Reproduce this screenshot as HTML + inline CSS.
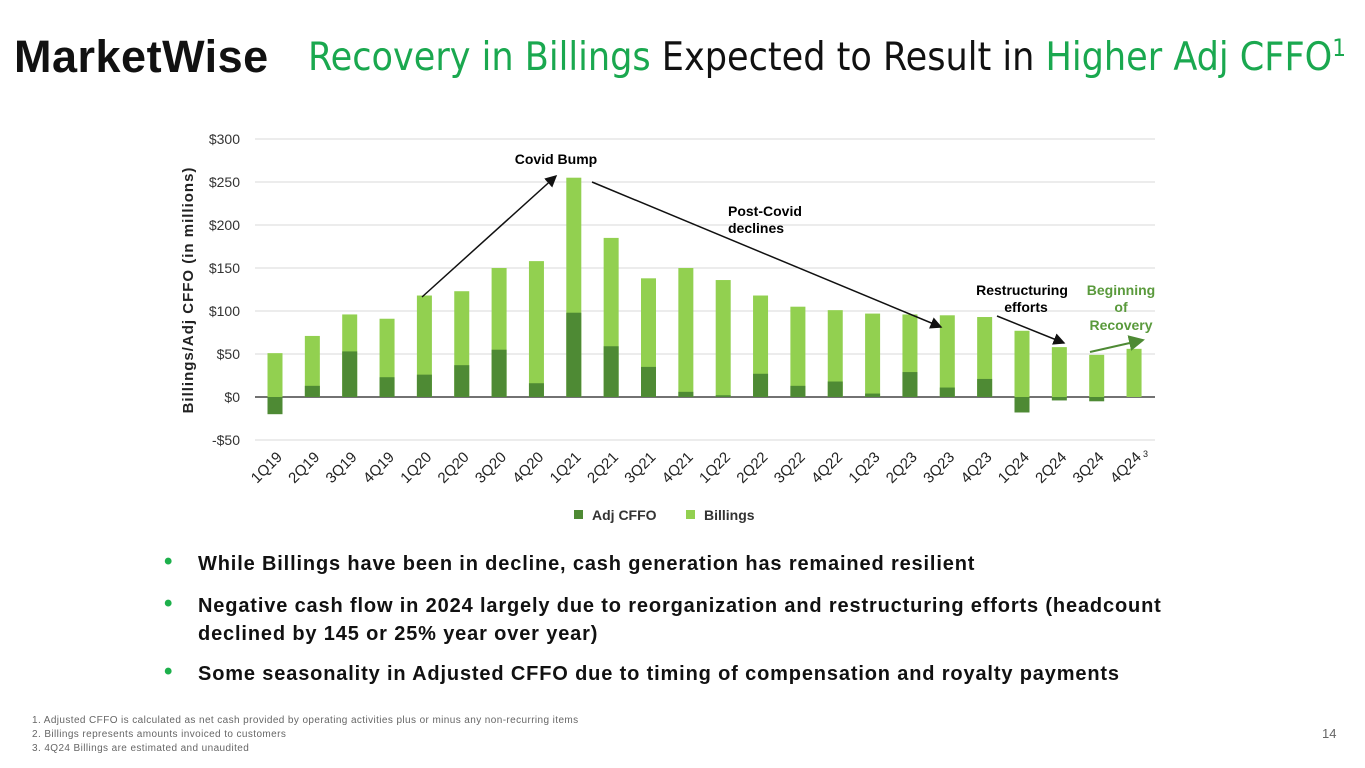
<!DOCTYPE html>
<html><head><meta charset="utf-8">
<style>
body{margin:0;width:1365px;height:768px;background:#fff;font-family:"Liberation Sans","DejaVu Sans",sans-serif;position:relative;overflow:hidden}
.abs{position:absolute}
.bul{position:absolute;left:170px;font-size:20px;font-weight:bold;color:#111;line-height:28px;letter-spacing:0.85px;white-space:nowrap}
.bul .dot{position:absolute;left:-6px;top:-2px;color:#1db04b;font-size:24px}
.bul span.t{margin-left:28px;display:block}
</style></head><body>
<div class="abs" style="left:14px;top:31px;font-size:45px;font-weight:bold;color:#111;letter-spacing:0.5px">MarketWise</div>
<div class="abs" style="left:308px;top:34px;font-size:39px;color:#111;white-space:nowrap;font-family:'DejaVu Sans Condensed','DejaVu Sans',sans-serif"><span style="color:#1aa84f">Recovery in Billings</span> Expected to Result in <span style="color:#1aa84f">Higher Adj CFFO<sup style="font-size:24px">1</sup></span></div>
<svg class="abs" style="left:0;top:0" width="1365" height="540">
<defs><marker id="ah" markerWidth="8" markerHeight="8" refX="7" refY="4" orient="auto"><path d="M0,0 L8,4 L0,8 z" fill="#111"/></marker>
<marker id="ahg" markerWidth="8" markerHeight="8" refX="7" refY="4" orient="auto"><path d="M0,0 L8,4 L0,8 z" fill="#4e8a34"/></marker></defs>
<g id="grid"></g><g id="bars"></g><g id="labels"></g>
<text transform="translate(193,290) rotate(-90)" text-anchor="middle" font-size="15" font-weight="bold" fill="#222" letter-spacing="1">Billings/Adj CFFO (in millions)</text>
<text x="556" y="164" text-anchor="middle" font-size="14" font-weight="bold">Covid Bump</text>
<line x1="422" y1="297" x2="556" y2="176" stroke="#111" stroke-width="1.5" marker-end="url(#ah)"/>
<line x1="592" y1="182" x2="941" y2="327" stroke="#111" stroke-width="1.5" marker-end="url(#ah)"/>
<text x="728" y="216" font-size="14" font-weight="bold"><tspan x="728">Post-Covid</tspan><tspan x="728" dy="17">declines</tspan></text>
<text x="1022" y="295" text-anchor="middle" font-size="14" font-weight="bold"><tspan x="1022">Restructuring</tspan><tspan x="1026" dy="17">efforts</tspan></text>
<line x1="997" y1="316" x2="1064" y2="343" stroke="#111" stroke-width="1.5" marker-end="url(#ah)"/>
<text x="1121" y="295" text-anchor="middle" font-size="14" font-weight="bold" fill="#5a9a3c"><tspan x="1121">Beginning</tspan><tspan x="1121" dy="17">of</tspan><tspan x="1121" dy="18">Recovery</tspan></text>
<line x1="1090" y1="352" x2="1143" y2="340" stroke="#4e8a34" stroke-width="2" marker-end="url(#ahg)"/>
<rect x="574" y="510" width="9" height="9" fill="#4e8a34"/>
<text x="592" y="520" font-size="14" font-weight="bold" fill="#333">Adj CFFO</text>
<rect x="686" y="510" width="9" height="9" fill="#92d050"/>
<text x="704" y="520" font-size="14" font-weight="bold" fill="#333">Billings</text>
</svg>
<div class="bul" style="top:550px"><span class="dot">•</span><span class="t">While Billings have been in decline, cash generation has remained resilient</span></div>
<div class="bul" style="top:592px"><span class="dot">•</span><span class="t">Negative cash flow in 2024 largely due to reorganization and restructuring efforts (headcount<br>declined by 145 or 25% year over year)</span></div>
<div class="bul" style="top:660px"><span class="dot">•</span><span class="t">Some seasonality in Adjusted CFFO due to timing of compensation and royalty payments</span></div>
<div class="abs" style="left:32px;top:714px;font-size:10px;color:#666;line-height:14px;letter-spacing:0.4px">1. Adjusted CFFO is calculated as net cash provided by operating activities plus or minus any non-recurring items<br>2. Billings represents amounts invoiced to customers<br>3. 4Q24 Billings are estimated and unaudited</div>
<div class="abs" style="left:1322px;top:726px;font-size:13px;color:#666">14</div>
<script>
const categories=["1Q19","2Q19","3Q19","4Q19","1Q20","2Q20","3Q20","4Q20","1Q21","2Q21","3Q21","4Q21","1Q22","2Q22","3Q22","4Q22","1Q23","2Q23","3Q23","4Q23","1Q24","2Q24","3Q24","4Q24"];
const billings=[51,71,96,91,118,123,150,158,255,185,138,150,136,118,105,101,97,96,95,93,77,58,49,56];
const adjCffo=[-20,13,53,23,26,37,55,16,98,59,35,6,2,27,13,18,4,29,11,21,-18,-4,-5,0];
const yTicks=[-50,0,50,100,150,200,250,300];
const NS="http://www.w3.org/2000/svg";
const y=v=>397-v*0.86;
const x=i=>275+i*37.35;
function mk(tag,attrs,parent){const e=document.createElementNS(NS,tag);for(const k in attrs)e.setAttribute(k,attrs[k]);document.getElementById(parent).appendChild(e);return e;}
yTicks.forEach(t=>{
  const l=mk('line',{x1:255,x2:1155,y1:y(t),y2:y(t),stroke:t===0?'#444':'#d9d9d9','stroke-width':t===0?1.5:1},'grid');
  
  
  const tx=mk('text',{x:240,y:y(t)+5,'text-anchor':'end','font-size':14,fill:'#333'},'labels');
  tx.textContent=(t<0?'-$':'$')+Math.abs(t);
  
  
});
categories.forEach((c,i)=>{
  const b=mk('rect',{x:x(i)-7.5,width:15,y:y(Math.max(billings[i],0)),height:Math.abs(y(billings[i])-y(0)),fill:'#92d050'},'bars');
  
  
  const v=adjCffo[i];
  const a=mk('rect',{x:x(i)-7.5,width:15,y:Math.min(y(v),y(0)),height:Math.abs(y(v)-y(0)),fill:'#4e8a34'},'bars');
  
  
  const t=mk('text',{transform:`translate(${x(i)+8},458) rotate(-45)`,'text-anchor':'end','font-size':15,fill:'#222'},'labels');
  t.textContent=c;
  
  
});
const s=mk('text',{x:x(23)+9,y:457,'font-size':9,fill:'#222'},'labels');s.textContent='3';


</script>
</body></html>
